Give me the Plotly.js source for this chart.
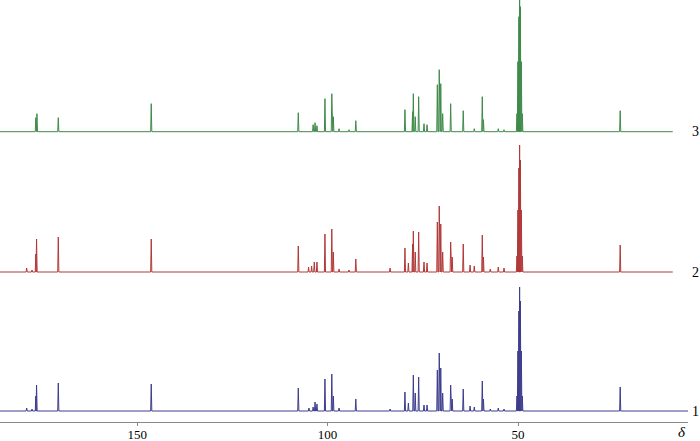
<!DOCTYPE html>
<html>
<head>
<meta charset="utf-8">
<script src="https://cdn.plot.ly/plotly-3.0.1.min.js"></script>
<style>
    html, body { margin: 0; padding: 0; background: #fff; }
    #chart { width: 700px; height: 441px; }
</style>
</head>
<body>
<div id="chart"></div>
<script>
// Peak positions (ppm) and heights, one pair of arrays per spectrum
const ppm1 = [179.0, 177.6, 176.6, 176.4, 170.7, 146.3, 107.7, 104.9, 103.8, 103.3, 102.8,
    100.7, 98.9, 98.5, 97.0, 92.6, 83.6, 79.7, 78.8, 77.5, 77.0, 76.1, 74.7, 73.9,
    71.2, 70.7, 70.3, 69.8, 67.7, 67.3, 64.4, 62.6, 61.5, 59.4, 59.1, 57.3, 55.2, 53.7,
    50.3, 50.05, 49.8, 49.6, 49.4, 49.15, 48.9, 23.2];
const int1 = [3, 2, 15, 26, 28, 27, 23, 3, 4, 9, 7,
    32, 37, 15, 3, 12, 2, 19, 8, 36, 18, 34, 6, 6,
    41, 58, 43, 18, 26, 12, 22, 5, 4, 30, 12, 2, 3, 2,
    15, 60, 100, 124, 110, 60, 15, 24];

const ppm2 = [179.0, 177.6, 176.6, 176.4, 170.7, 146.3, 107.7, 105.0, 104.2, 103.5, 102.8,
    100.7, 98.9, 98.5, 97.0, 94.4, 92.6, 83.6, 79.7, 78.8, 77.7, 77.5, 77.0, 76.1, 74.7, 73.9,
    71.2, 70.7, 70.3, 69.8, 67.7, 67.3, 64.4, 62.6, 61.5, 59.4, 59.1, 57.3, 55.2, 53.7,
    50.3, 50.05, 49.8, 49.6, 49.4, 49.15, 48.9, 23.2];
const int2 = [4, 2, 18, 33, 35, 33, 26, 5, 6, 10, 10,
    38, 43, 20, 3, 2, 13, 4, 24, 9, 28, 41, 20, 40, 10, 9,
    50, 66, 48, 20, 30, 15, 28, 7, 6, 37, 15, 3, 5, 4,
    16, 62, 104, 127, 112, 62, 16, 27];

const ppm3 = [176.6, 176.3, 170.7, 146.3, 107.7, 103.8, 103.3, 102.8,
    100.7, 98.9, 98.5, 97.0, 94.4, 92.6, 79.7, 77.7, 77.5, 77.0, 76.1, 74.7, 73.9,
    71.2, 70.7, 70.3, 69.8, 67.7, 64.4, 61.5, 59.4, 59.1, 55.2, 53.7,
    50.3, 50.05, 49.8, 49.6, 49.4, 49.15, 48.9, 23.2];
const int3 = [14, 18, 14, 28, 19, 7, 9, 6,
    33, 38, 15, 3, 2, 11, 22, 20, 38, 15, 35, 8, 7,
    47, 62, 48, 18, 28, 21, 3, 35, 12, 3, 2,
    18, 70, 115, 140, 125, 70, 18, 21];

const spectrumLabels = ['1', '2', '3'];
const tickValues = [150, 100, 50];

// ppm span of each recorded spectrum
const X_LEFT = 186;
const X_END = [5.4, 9.4, 9.4];
const HALF_WIDTH = 0.15;

const colors = ['#3c3c8c', '#b03838', '#3e8a48'];
const serif = '"Liberation Serif", "DejaVu Serif", serif';

function stickSpectrum(ppm, heights, xEnd) {
    const order = ppm.map((p, i) => i).sort((a, b) => ppm[b] - ppm[a]);
    const x = [X_LEFT], y = [0];
    order.forEach(i => {
        x.push(ppm[i] + HALF_WIDTH, ppm[i], ppm[i] - HALF_WIDTH);
        y.push(0, heights[i], 0);
    });
    x.push(xEnd);
    y.push(0);
    return { x: x, y: y };
}

const spectra = [[ppm1, int1], [ppm2, int2], [ppm3, int3]];
const yRefs = ['y', 'y2', 'y3'];

const traces = spectra.map((s, k) => {
    const d = stickSpectrum(s[0], s[1], X_END[k]);
    return {
        x: d.x,
        y: d.y,
        yaxis: yRefs[k],
        type: 'scatter',
        mode: 'lines',
        line: { color: colors[k], width: 1 },
        hoverinfo: 'skip',
        showlegend: false
    };
});

const hiddenY = { visible: false, fixedrange: true };

const annotations = spectrumLabels.map((t, k) => ({
    text: t,
    xref: 'paper',
    yref: yRefs[k],
    x: 1.0102,
    y: 0,
    xanchor: 'center',
    yanchor: 'middle',
    showarrow: false,
    font: { family: serif, size: 14, color: '#000' }
}));
annotations.push({
    text: 'δ',
    xref: 'paper',
    yref: 'paper',
    x: 0.9913,
    y: -0.024,
    xanchor: 'center',
    yanchor: 'middle',
    showarrow: false,
    font: { family: serif, size: 15, color: '#000', style: 'italic' }
});

const layout = {
    width: 700,
    height: 441,
    margin: { l: 0, r: 12, t: 0, b: 19 },
    paper_bgcolor: '#fff',
    plot_bgcolor: '#fff',
    xaxis: {
        range: [X_LEFT, 5.4],
        tickvals: tickValues,
        ticktext: tickValues.map(String),
        ticks: 'outside',
        ticklen: 3,
        tickcolor: '#888',
        showline: true,
        linecolor: '#888',
        linewidth: 1,
        showgrid: false,
        zeroline: false,
        ticklabelstandoff: -3,
        tickfont: { family: serif, size: 13, color: '#000' }
    },
    yaxis: Object.assign({ range: [-11, 411] }, hiddenY),
    yaxis2: Object.assign({ range: [-150, 272], overlaying: 'y' }, hiddenY),
    yaxis3: Object.assign({ range: [-290.3, 131.7], overlaying: 'y' }, hiddenY),
    annotations: annotations
};

Plotly.newPlot('chart', traces, layout, { displayModeBar: false, staticPlot: true });
</script>
</body>
</html>
